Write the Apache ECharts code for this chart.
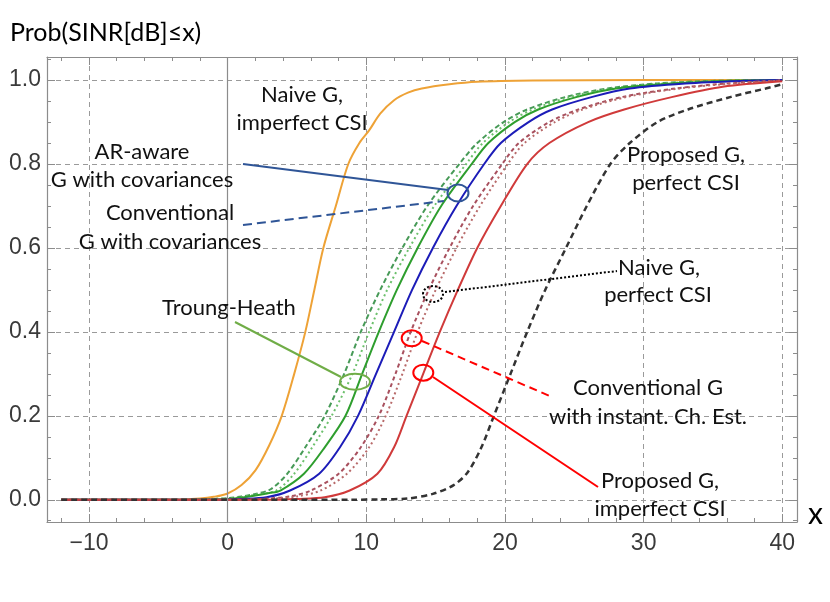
<!DOCTYPE html>
<html>
<head>
<meta charset="utf-8">
<script src="https://cdn.jsdelivr.net/npm/echarts@6.0.0/dist/echarts.min.js"></script>
<style>
  html, body { margin: 0; padding: 0; background: #fff; }
  #chart_div { width: 830px; height: 602px; }
</style>
</head>
<body>
<div id="chart_div"></div>
<script>
// tick values
var xMajor = [-10, 0, 10, 20, 30, 40];
var xMinor = [-12, -8, -6, -4, -2, 2, 4, 6, 8, 12, 14, 16, 18, 22, 24, 26, 28, 32, 34, 36, 38];
var yMajor = [0, 0.2, 0.4, 0.6, 0.8, 1.0];
var yMinor = [-0.05, 0.05, 0.1, 0.15, 0.25, 0.3, 0.35, 0.45, 0.5, 0.55, 0.65, 0.7, 0.75, 0.85, 0.9, 0.95, 1.05];

// CDF curves, [x (dB), P]
var naiveImperfect = [[-12,0],[-4,0],[-2,0.003],[-1,0.007],[0,0.015],[1,0.035],[2,0.07],[3,0.13],[3.9,0.2],[4.8,0.3],[5.6,0.4],[6.25,0.5],[6.9,0.6],[7.8,0.7],[8.7,0.8],[9.5,0.85],[10.2,0.88],[11,0.92],[12,0.952],[13,0.97],[14,0.98],[16,0.99],[18,0.996],[22,0.999],[30,1],[40,1]];
var convCov = [[-12,0],[-3,0],[-1,0.002],[0,0.004],[1,0.008],[2,0.014],[3.1,0.025],[4.3,0.062],[5.6,0.125],[7.0,0.2],[8.4,0.3],[9.6,0.4],[11.0,0.5],[12.6,0.6],[14.4,0.7],[16.7,0.8],[18.0,0.85],[19.9,0.9],[21.6,0.93],[24.4,0.96],[27.4,0.98],[31,0.992],[35,0.998],[40,1]];
var greenDotted = [[-12,0],[-3,0],[-1,0.002],[0,0.003],[1,0.006],[2,0.012],[3.5,0.022],[4.8,0.062],[6.1,0.125],[7.5,0.2],[9.0,0.3],[10.2,0.4],[11.5,0.5],[13.1,0.6],[14.9,0.7],[17.2,0.8],[18.4,0.85],[20.3,0.9],[22.0,0.93],[24.7,0.96],[27.7,0.98],[31.5,0.992],[35.5,0.998],[40,1]];
var truongHeath = [[-12,0],[-2,0],[0,0.002],[1,0.005],[2,0.01],[3,0.016],[3.8,0.022],[5.5,0.062],[7.0,0.125],[8.5,0.2],[9.7,0.3],[10.9,0.4],[12.2,0.5],[13.7,0.6],[15.4,0.7],[17.6,0.8],[18.8,0.85],[20.7,0.9],[22.4,0.93],[25.2,0.96],[28,0.98],[32,0.992],[36,0.998],[40,1]];
var arAware = [[-12,0],[-1,0],[1,0.002],[2.8,0.006],[4.5,0.022],[6.6,0.062],[8.1,0.125],[9.4,0.2],[10.7,0.3],[12.0,0.4],[13.3,0.5],[14.8,0.6],[16.5,0.7],[18.5,0.8],[19.7,0.85],[21.7,0.9],[23.4,0.93],[26.3,0.96],[29,0.98],[33,0.992],[37,0.998],[40,1]];
var convInstant = [[-12,0],[1,0],[3,0.003],[4.5,0.008],[6.0,0.022],[8.0,0.062],[9.6,0.125],[10.9,0.2],[12.1,0.3],[13.2,0.4],[14.5,0.5],[16.0,0.6],[17.7,0.7],[19.8,0.8],[21.0,0.85],[23.2,0.9],[25.3,0.93],[28.5,0.96],[32.3,0.98],[36,0.992],[40,0.999]];
var naivePerfect = [[-12,0],[1.5,0],[3.5,0.003],[5,0.008],[6.7,0.022],[8.6,0.062],[10.2,0.125],[11.4,0.2],[12.6,0.3],[13.7,0.4],[15.0,0.5],[16.5,0.6],[18.2,0.7],[20.2,0.8],[21.4,0.85],[23.6,0.9],[25.6,0.93],[28.8,0.96],[32.6,0.98],[36.5,0.992],[40,0.999]];
var proposedImperfect = [[-12,0],[3,0],[5,0.002],[7,0.006],[8.8,0.022],[10.8,0.062],[12.0,0.125],[12.9,0.2],[14.1,0.3],[15.3,0.4],[16.6,0.5],[18.0,0.6],[19.7,0.7],[21.6,0.8],[23.2,0.85],[26.0,0.9],[28.6,0.93],[32.1,0.96],[35.7,0.984],[40,0.997]];
var proposedPerfect = [[-12,0],[9,0],[11,0.001],[13,0.003],[14.8,0.014],[16.3,0.035],[17.3,0.065],[18.3,0.125],[19.2,0.2],[20.4,0.3],[21.6,0.4],[22.9,0.5],[24.4,0.6],[25.9,0.7],[27.6,0.8],[29.0,0.85],[31.0,0.9],[33.2,0.93],[36.3,0.96],[38.8,0.98],[40,0.99]];

var frameColor = '#8c8c8c';
var gridLine = { show: true, lineStyle: { color: '#9a9a9a', type: [5, 4], width: 1 } };
var tickFont = { fontFamily: 'Liberation Sans', fontSize: 23, color: '#3a3a3a' };
var noteFont = '22px Lato';

function curve(name, data, color, type, width) {
  return {
    name: name, type: 'line', data: data, showSymbol: false, symbol: 'none',
    smooth: 0.3, silent: true,
    lineStyle: { color: color, type: type, width: width || 2 }
  };
}

function xAx(pos, values, len, withLine, withLabel, withSplit) {
  return {
    type: 'value', position: pos, min: -13.03, max: 41.06,
    axisLine: { show: withLine, onZero: false, lineStyle: { color: frameColor, width: 1.2 } },
    axisTick: { show: true, inside: true, length: len, customValues: values, lineStyle: { color: frameColor } },
    axisLabel: withLabel ? Object.assign({ show: true, margin: 10, customValues: values,
      formatter: function (v) { return v < 0 ? '\u2212' + Math.abs(v) : String(v); } }, tickFont) : { show: false },
    splitLine: withSplit ? gridLine : { show: false }
  };
}

function yAx(pos, values, len, withLine, withLabel, withSplit) {
  return {
    type: 'value', position: pos, min: -0.053, max: 1.055,
    axisLine: { show: withLine, onZero: false, lineStyle: { color: frameColor, width: 1.2 } },
    axisTick: { show: true, inside: true, length: len, customValues: values, lineStyle: { color: frameColor } },
    axisLabel: withLabel ? Object.assign({ show: true, margin: 6, customValues: values,
      formatter: function (v) { return v.toFixed(1); } }, tickFont) : { show: false },
    splitLine: withSplit ? gridLine : { show: false }
  };
}

function note(text, x, y, size) {
  return { type: 'text', z: 100, style: { text: text, x: x, y: y, textAlign: 'center', textVerticalAlign: 'middle',
    font: (size || noteFont), fill: '#111' } };
}
function seg(x1, y1, x2, y2, color, dash) {
  return { type: 'line', z: 100, shape: { x1: x1, y1: y1, x2: x2, y2: y2 },
    style: { stroke: color, lineWidth: 2, lineDash: dash || null } };
}
function ring(cx, cy, rx, ry, color, dash) {
  return { type: 'ellipse', z: 100, shape: { cx: cx, cy: cy, rx: rx, ry: ry },
    style: { fill: 'none', stroke: color, lineWidth: 2, lineDash: dash || null } };
}

var myChart = echarts.init(document.getElementById('chart_div'));

var option = {
  backgroundColor: '#fff',
  animation: false,
  grid: { left: 47, top: 57, right: 33, bottom: 80, containLabel: false },
  xAxis: [
    xAx('bottom', xMajor, 8, true, true, true),
    xAx('bottom', xMinor, 4, false, false, false),
    xAx('top', xMajor, 8, true, false, false),
    xAx('top', xMinor, 4, false, false, false)
  ],
  yAxis: [
    yAx('left', yMajor, 8, true, true, true),
    yAx('left', yMinor, 4, false, false, false),
    yAx('right', yMajor, 8, true, false, false),
    yAx('right', yMinor, 4, false, false, false)
  ],
  series: [
    Object.assign(curve('Naive G, imperfect CSI', naiveImperfect, '#eea236', 'solid'), {
      markLine: { silent: true, symbol: 'none', label: { show: false },
        lineStyle: { color: '#8c8c8c', type: 'solid', width: 1.2 }, data: [{ xAxis: 0 }] }
    }),
    curve('Conventional G with covariances', convCov, '#479a57', [5, 3]),
    curve('Troung-Heath (dotted)', greenDotted, '#6cc06c', [2, 3]),
    curve('Troung-Heath', truongHeath, '#2e9e2e', 'solid'),
    curve('AR-aware G with covariances', arAware, '#1c1cb8', 'solid'),
    curve('Conventional G with instant. Ch. Est.', convInstant, '#a8505e', [4, 3]),
    curve('Naive G, perfect CSI', naivePerfect, '#b86a6a', [2, 3]),
    curve('Proposed G, imperfect CSI', proposedImperfect, '#d03a3a', 'solid'),
    curve('Proposed G, perfect CSI', proposedPerfect, '#333333', [6, 4], 2.5)
  ],
  graphic: [
    { type: 'text', z: 100, style: { text: 'Prob(SINR[dB]\u2264x)', x: 10, y: 33, textVerticalAlign: 'middle', font: '25px Lato', fill: '#000' } },
    { type: 'text', z: 100, style: { text: 'x', x: 808, y: 514, textVerticalAlign: 'middle', font: '30px Lato', fill: '#000' } },

    note('Naive G,', 302, 95), note('imperfect CSI', 302, 123),
    note('AR-aware', 142, 152), note('G with covariances', 142, 180),
    note('Conventional', 170, 213), note('G with covariances', 170, 242),
    note('Troung-Heath', 229, 308),
    note('Proposed G,', 686, 155), note('perfect CSI', 686, 183),
    note('Naive G,', 659, 268), note('perfect CSI', 658, 295),
    note('Conventional G', 648, 388), note('with instant. Ch. Est.', 648, 417),
    note('Proposed G,', 660, 481), note('imperfect CSI', 660, 509),

    seg(243, 164, 448, 190, '#2f5597'),
    ring(458, 193, 10.5, 8.5, '#2f5597'),
    seg(243, 225, 444, 201, '#2f5597', [9, 5]),
    seg(235, 322, 341, 377, '#70ad47'),
    ring(355, 381.7, 15, 8, '#70ad47'),
    ring(433, 294, 10, 8, '#000', [2, 2]),
    seg(445, 292, 617, 271, '#000', [2, 2]),
    ring(411.7, 338.3, 10, 8, '#ff0000'),
    seg(422, 341, 552, 397, '#ff0000', [8, 5]),
    ring(423.3, 372.7, 10, 8, '#ff0000'),
    seg(433, 377, 598, 487, '#ff0000')
  ]
};
myChart.setOption(option);
</script>
</body>
</html>
